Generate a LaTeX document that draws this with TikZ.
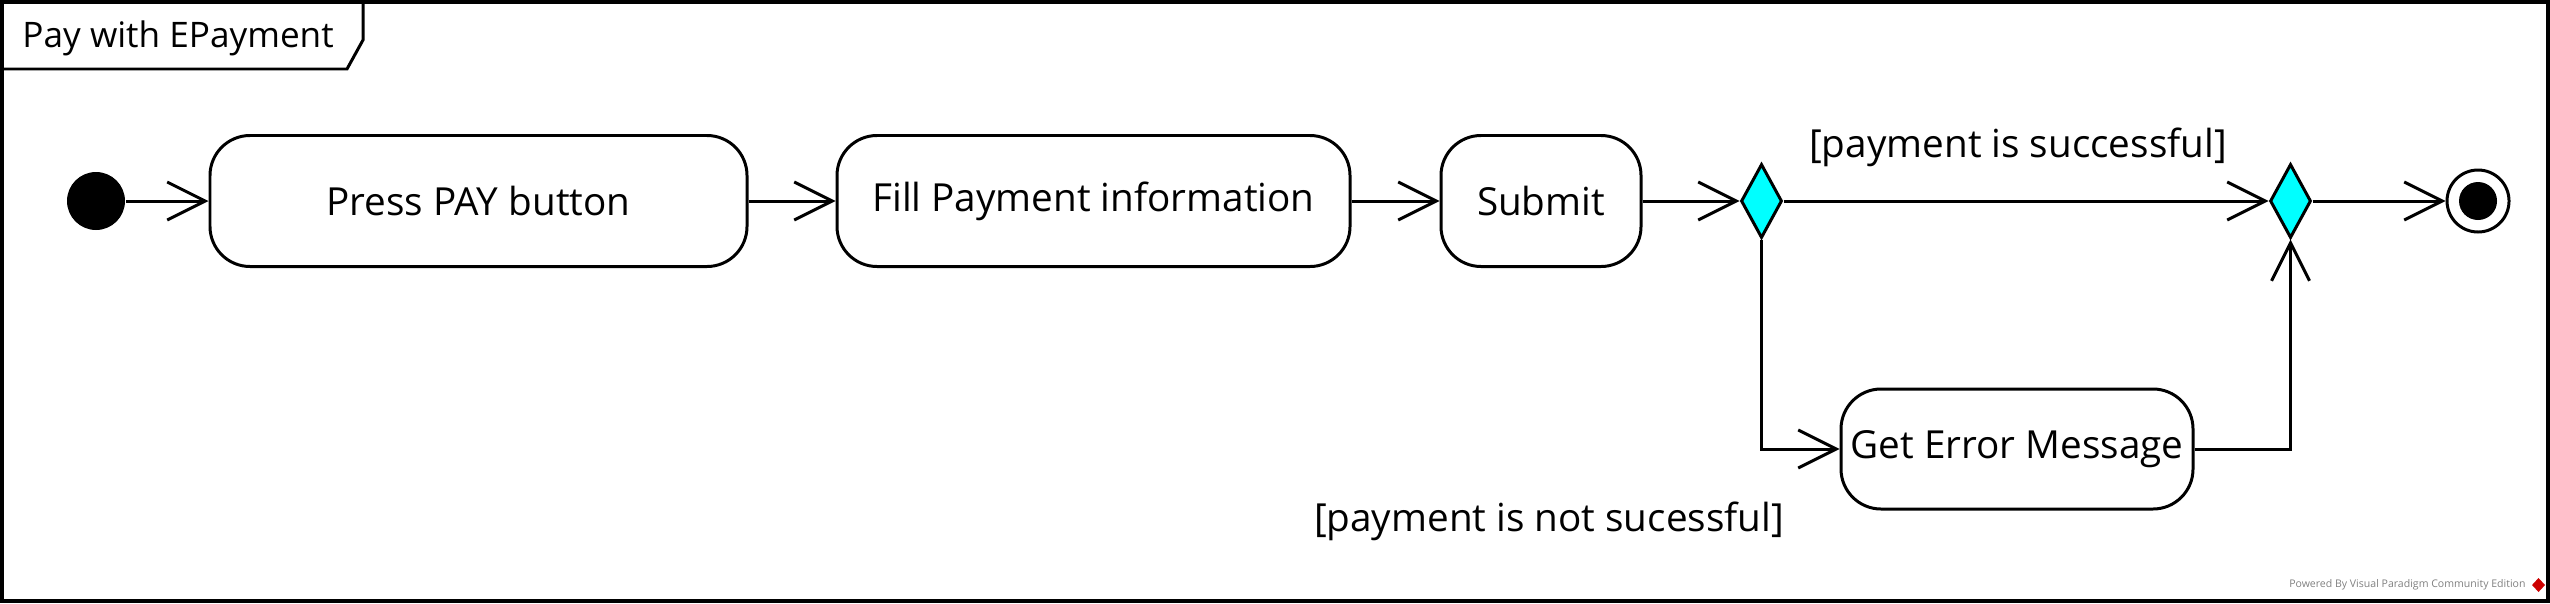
\documentclass[tikz,border=0pt]{standalone}
\usepackage{fontspec}
\setmainfont{Open Sans}
\usetikzlibrary{arrows.meta,shapes.geometric}
\definecolor{decisioncyan}{RGB}{0,255,255}

\tikzset{
    action/.style={draw, rounded corners=0.4cm, minimum height=1.31cm, inner sep=0pt, font=\fontsize{11}{13}\selectfont},
    decision/.style={draw, diamond, fill=decisioncyan, inner sep=0pt, minimum width=0.41cm, minimum height=0.74cm},
    guard/.style={font=\fontsize{11}{13}\selectfont},
}

\begin{document}
\begin{tikzpicture}[line width=0.85pt, >={Straight Barb[length=3.8mm,width=3.8mm,line width=0.85pt]}]
        \useasboundingbox (0,0) rectangle (25.5,-6.03);
        \draw[line width=1.1pt] (0.02,-0.02) rectangle (25.48,-6.01);

        \begin{scope}
            \draw (0,-0.69) -- (3.47,-0.69) -- (3.63,-0.40) -- (3.63,0);
            \node[anchor=base west, inner sep=0pt, font=\fontsize{10}{12}\selectfont] (title) at (0.21,-0.47) {Pay with EPayment};
        \end{scope}

        \node[circle, fill=black, minimum size=0.58cm, inner sep=0pt] (start) at (0.96,-2.01) {};
        \node[action, minimum width=5.37cm] (press) at (4.785,-2.01) {Press PAY button};
        \node[action, minimum width=5.13cm] (fill) at (10.935,-2.01) {Fill Payment information};
        \node[action, minimum width=2.00cm] (submit) at (15.41,-2.01) {Submit};
        \node[decision] (check) at (17.615,-2.01) {};
        \node[decision] (merge) at (22.905,-2.01) {};
        \node[circle, draw, minimum size=0.62cm, inner sep=0pt] (final) at (24.78,-2.01) {};
        \fill (final) circle (0.19);
        \node[action, minimum width=3.52cm, minimum height=1.20cm] (error) at (20.17,-4.49) {Get Error Message};

        \node[guard] (ok) at (20.18,-1.47) {[payment is successful]};
        \node[guard] (notok) at (15.49,-5.21) {[payment is not sucessful]};

        \draw[->] (start) -- (press);
        \draw[->] (press) -- (fill);
        \draw[->] (fill) -- (submit);
        \draw[->] (submit) -- (check);
        \draw[->] (check) -- (merge);
        \draw[->] (merge) -- (final);
        \draw[->] (check.south) |- (error.west);
        \draw[->] (error.east) -| (merge.south);

        \node[anchor=east, inner sep=0pt, text=gray, font=\fontsize{3}{4}\selectfont] (powered) at (25.27,-5.85) {Powered By Visual Paradigm Community Edition};
        \fill[red!80!black] (25.385,-5.78) -- (25.45,-5.85) -- (25.385,-5.92) -- (25.32,-5.85) -- cycle;
    \end{tikzpicture}
\end{document}
